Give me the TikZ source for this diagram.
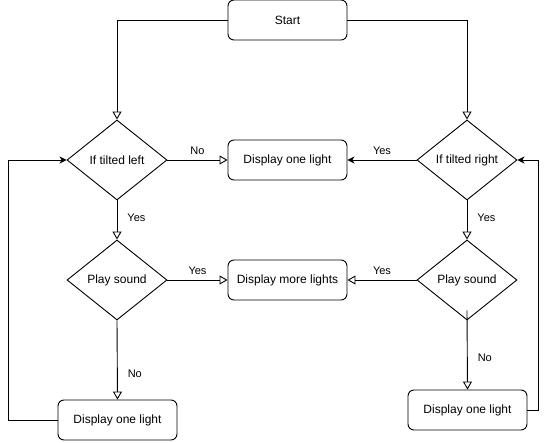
\documentclass[tikz,border=0pt]{standalone}
\usepackage{fontspec}
\setmainfont{Liberation Sans}
\usetikzlibrary{arrows.meta,shapes.geometric}
\begin{document}
\begin{tikzpicture}[x=1pt,y=-1pt,
  proc/.style={draw, rounded corners=6pt, minimum width=119pt, minimum height=40pt, inner sep=0pt, font=\fontsize{12}{14}\selectfont},
  dec/.style={draw, diamond, minimum width=100pt, minimum height=80pt, inner sep=0pt, aspect=1.25, font=\fontsize{12}{14}\selectfont},
  lab/.style={font=\fontsize{11}{13}\selectfont, inner sep=0pt},
  oarr/.style={-{Triangle[open,length=8pt,width=9pt]}},
  farr/.style={-{Stealth[length=7pt,width=7pt,inset=2pt]}},
  every path/.style={line width=0.9pt}]
\useasboundingbox (0,0) rectangle (546,442);
\node[proc] (start) at (287.5,20) {Start};
\node[dec] (tl) at (117,160) {If tilted left};
\node[dec] (tr) at (467,160) {If tilted right};
\node[proc] (one) at (287.5,160) {Display one light};
\node[dec] (psl) at (117,280) {Play sound};
\node[dec] (psr) at (467,280) {Play sound};
\node[proc] (more) at (287.5,280) {Display more lights};
\node[proc] (onel) at (117.5,420) {Display one light};
\node[proc] (oner) at (467.5,410) {Display one light};
\coordinate (c1) at (tl.north |- start.west);
\coordinate (c2) at (tr.north |- start.east);
\draw[oarr] (start.west) -- (c1) -- (tl.north);
\draw[oarr] (start.east) -- (c2) -- (tr.north);
\draw[oarr] (tl.east) -- node[lab, above=5pt, pos=0.5] {No} (one.west);
\draw[farr] (tr.west) -- node[lab, above=5pt, pos=0.5] {Yes} (one.east);
\draw[oarr] (tl.south) -- node[lab, right=10pt, pos=0.45] {Yes} (psl.north);
\draw[oarr] (tr.south) -- node[lab, right=10pt, pos=0.45] {Yes} (psr.north);
\draw[oarr] (psl.east) -- node[lab, above=5pt, pos=0.5] {Yes} (more.west);
\draw[oarr] (psr.west) -- node[lab, above=5pt, pos=0.5] {Yes} (more.east);
\draw[oarr] (psl.south) -- node[lab, right=10pt, pos=0.68] {No} (onel.north);
\coordinate (psrin) at ([yshift=10pt]psr.south);
\draw[oarr] (psrin) -- node[lab, right=10pt, pos=0.6] {No} (oner.north);
\coordinate (l1) at (8,0 |- onel.west);
\coordinate (l2) at (8,0 |- tl.west);
\draw[farr] (onel.west) -- (l1) -- (l2) -- (tl.west);
\coordinate (r1) at (538,0 |- oner.east);
\coordinate (r2) at (538,0 |- tr.east);
\draw[farr] (oner.east) -- (r1) -- (r2) -- (tr.east);
\end{tikzpicture}
\end{document}
